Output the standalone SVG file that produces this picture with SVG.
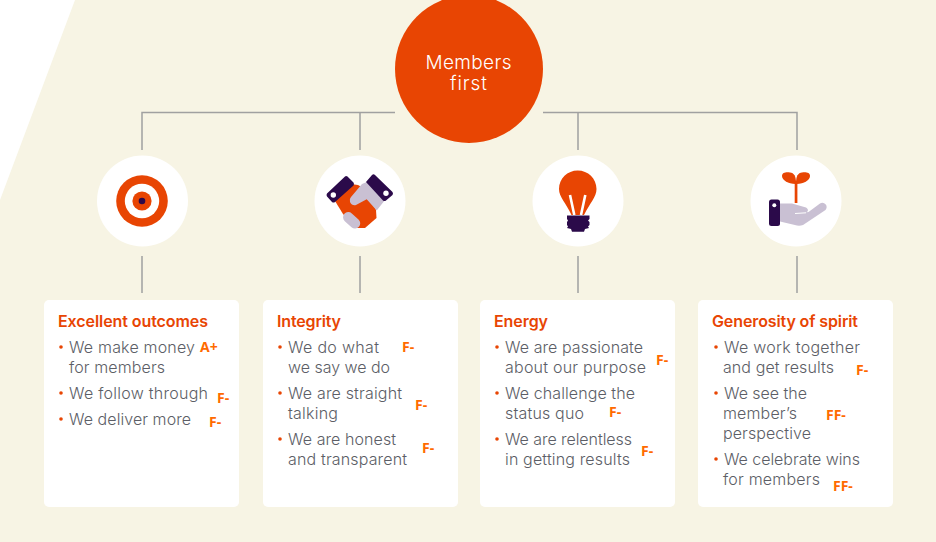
<svg xmlns="http://www.w3.org/2000/svg" width="936" height="542" viewBox="0 0 936 542">
<style>
.t{font-family:"Inter","Liberation Sans",sans-serif;font-size:16px;font-weight:300;fill:#5c5e66}
.h{font-family:"Inter","Liberation Sans",sans-serif;font-size:16px;font-weight:600;fill:#e84503}
.g{font-family:"Open Sans","Liberation Sans",sans-serif;font-size:14px;font-weight:700;fill:#ff6a00}
.m{font-family:"Inter","Liberation Sans",sans-serif;font-size:19px;font-weight:300;fill:#fff;text-anchor:middle}
.b{fill:#e84503}
.c{fill:#fff}
.o{fill:#e84503}
.p{fill:#2b0a4a}
.l{fill:#c9c0d3}
.conn{stroke:#a0a0a0;stroke-width:1.5;fill:none}
</style>
<rect width="936" height="542" fill="#f7f4e4"/>
<polygon points="0,0 75,0 0,200" fill="#fff"/>
<g id="connectors" class="conn">
<path d="M142 150V112.500H395M543 112.500H797V150M360 112.500V150M578 112.500V150"/>
<path d="M142 256V293M360 256V293M578 256V293M797 256V293"/>
</g>
<g id="members-first">
<circle cx="469" cy="69" r="74" class="o"/>
<text x="468.500" y="69" class="m" textLength="86">Members</text>
<text x="468.500" y="90" class="m" textLength="37">first</text>
</g>
<g id="icon-target">
<circle cx="142.500" cy="201" r="45.500" class="c"/>
<circle cx="142" cy="201" r="25.800" class="o"/>
<circle cx="142" cy="201" r="17.200" class="c"/>
<circle cx="142" cy="201" r="9.600" class="o"/>
<circle cx="142" cy="201" r="3.300" class="p"/>
</g>
<g id="icon-handshake">
<circle cx="360" cy="201" r="45.500" class="c"/>
<path class="o" d="M335 201L351 184L358 185L367 190L376 210L376.500 218L365 228L356 228L343 214Z"/>
<path class="l" d="M362 184L368 181.500L385 200L376.700 210.500L366.700 199.300L356 205Q352 206 350 202Q349 199 351 197Z"/>
<path d="M348.300 217.300L355 223.300" stroke="#c9c0d3" stroke-width="10.500" stroke-linecap="round"/>
<path class="p" d="M327 193.500L345 176.500Q346 175.500 347.500 176.500L353.500 182.500Q354.500 184 353.500 185.500L335 202Q333.500 203 332 202L327 196.500Q326 195 327 193.500Z"/>
<path class="p" d="M366 182L372 175Q373.500 173.500 375 175L392.500 192Q393.500 193.500 392.500 195L386 200.500Q384.500 201.500 383 200.500Z"/>
<circle cx="333.300" cy="195" r="2.700" class="c"/>
<circle cx="386" cy="193.300" r="2.700" class="c"/>
</g>
<g id="icon-bulb">
<circle cx="578" cy="201" r="45.500" class="c"/>
<path class="o" d="M577.700 170.500C588 170.500 596.500 178.500 596.500 189C596.500 197 590 203 584 215L571.500 215C566 203 559 197 559 189C559 178.500 567.500 170.500 577.700 170.500Z"/>
<path d="M570 195L574.300 215M585.300 195L581 215" stroke="#fff" stroke-width="2.600" fill="none"/>
<path class="p" d="M567 215.500H589.500V219L588 220.500L589.500 222V225L588 226.500L589 228L585 229L584 231.700H572L571 229L567 228L568 226.500L567 225V222L568 220.500L567 219Z"/>
</g>
<g id="icon-plant">
<circle cx="796" cy="201" r="45.500" class="c"/>
<path class="l" d="M780 203.500L792 203.500L806 207.500C809 209 808.500 212.500 805 212.500L808.500 212L820 203.500C824 201 829 206 825.500 210L803 225Q800 226 797 225.500L780 221.500Z"/>
<path d="M795 213.500L806 212.800" stroke="#fff" stroke-width="1" fill="none"/>
<path class="p" d="M771.500 199.500H777.500Q780 199.500 780 202V223.500Q780 226 777.500 226H771.500Q769 226 769 223.500V202Q769 199.500 771.500 199.500Z"/>
<circle cx="774.300" cy="205.300" r="2" class="c"/>
<rect x="794.700" y="181" width="2.700" height="22" class="o"/>
<path class="o" d="M795.500 184C788 184 782 180 782 176C782 172.500 786 172 790 172.500C794 173 796 176 796 183Z"/>
<path class="o" d="M796.500 184C804 184 810 180 810 176C810 172.500 806 172 802 172.500C798 173 796 176 796 183Z"/>
</g>
<g id="card-outcomes">
<rect x="44" y="300" width="195" height="207" rx="5" class="c"/>
<text x="58" y="327" class="h" textLength="150">Excellent outcomes</text>
<circle cx="61" cy="347" r="1.800" class="b"/><circle cx="61" cy="393" r="1.800" class="b"/><circle cx="61" cy="419" r="1.800" class="b"/>
<text x="69" y="353" class="t" textLength="126">We make money</text>
<text x="69" y="373" class="t" textLength="96">for members</text>
<text x="69" y="399" class="t" textLength="139">We follow through</text>
<text x="69" y="425" class="t" textLength="122">We deliver more</text>
<text x="200" y="352" class="g">A+</text><text x="217" y="403" class="g">F-</text><text x="209" y="427" class="g">F-</text>
</g>
<g id="card-integrity">
<rect x="263" y="300" width="195" height="207" rx="5" class="c"/>
<text x="277" y="327" class="h" textLength="64">Integrity</text>
<circle cx="280" cy="347" r="1.800" class="b"/><circle cx="280" cy="393" r="1.800" class="b"/><circle cx="280" cy="439" r="1.800" class="b"/>
<text x="288" y="353" class="t" textLength="91">We do what</text>
<text x="288" y="373" class="t" textLength="102">we say we do</text>
<text x="288" y="399" class="t" textLength="114">We are straight</text>
<text x="288" y="419" class="t" textLength="50">talking</text>
<text x="288" y="445" class="t" textLength="108">We are honest</text>
<text x="288" y="465" class="t" textLength="119">and transparent</text>
<text x="402" y="352" class="g">F-</text><text x="415" y="410" class="g">F-</text><text x="422" y="453" class="g">F-</text>
</g>
<g id="card-energy">
<rect x="480" y="300" width="195" height="207" rx="5" class="c"/>
<text x="494" y="327" class="h" textLength="54">Energy</text>
<circle cx="497" cy="347" r="1.800" class="b"/><circle cx="497" cy="393" r="1.800" class="b"/><circle cx="497" cy="439" r="1.800" class="b"/>
<text x="505" y="353" class="t" textLength="138">We are passionate</text>
<text x="505" y="373" class="t" textLength="141">about our purpose</text>
<text x="505" y="399" class="t" textLength="130">We challenge the</text>
<text x="505" y="419" class="t" textLength="79">status quo</text>
<text x="505" y="445" class="t" textLength="127">We are relentless</text>
<text x="505" y="465" class="t" textLength="125">in getting results</text>
<text x="656" y="365" class="g">F-</text><text x="609" y="417" class="g">F-</text><text x="641" y="456" class="g">F-</text>
</g>
<g id="card-generosity">
<rect x="698" y="300" width="195" height="207" rx="5" class="c"/>
<text x="712" y="327" class="h" textLength="146">Generosity of spirit</text>
<circle cx="716" cy="347" r="1.800" class="b"/><circle cx="716" cy="393" r="1.800" class="b"/><circle cx="716" cy="459" r="1.800" class="b"/>
<text x="724" y="353" class="t" textLength="136">We work together</text>
<text x="723" y="373" class="t" textLength="111">and get results</text>
<text x="724" y="399" class="t" textLength="83">We see the</text>
<text x="723" y="419" class="t" textLength="74">member’s</text>
<text x="723" y="439" class="t" textLength="88">perspective</text>
<text x="724" y="465" class="t" textLength="136">We celebrate wins</text>
<text x="723" y="485" class="t" textLength="97">for members</text>
<text x="856" y="375" class="g">F-</text><text x="826" y="420" class="g">FF-</text><text x="833" y="491" class="g">FF-</text>
</g>
</svg>
